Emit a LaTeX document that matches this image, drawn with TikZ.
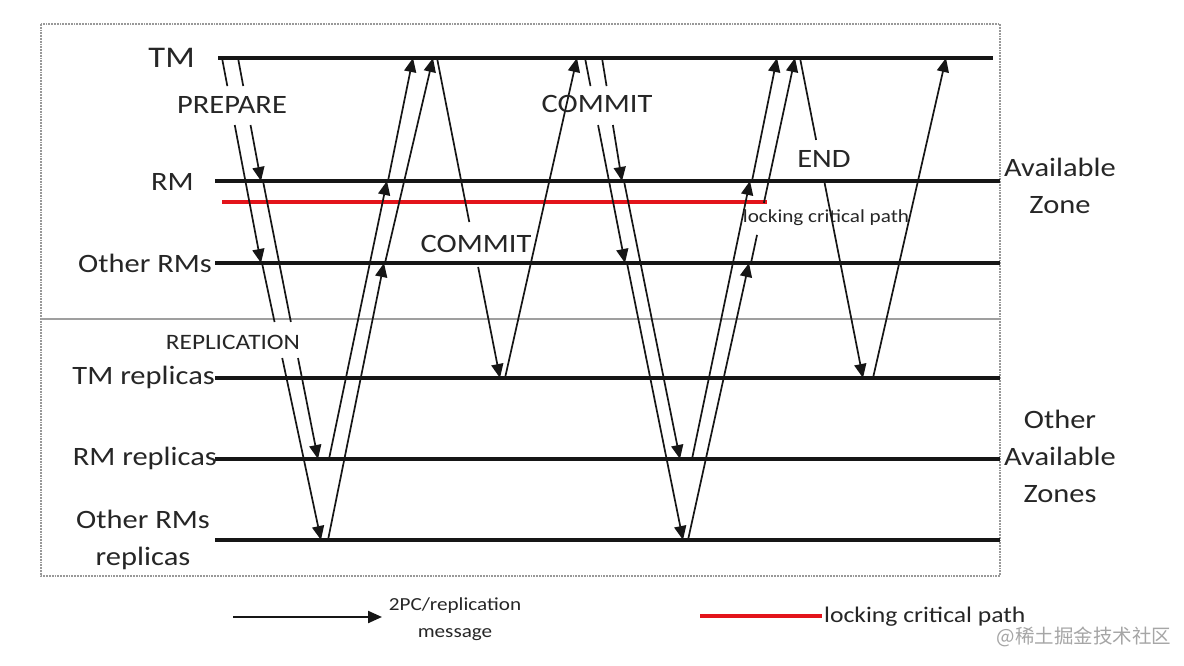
\documentclass[tikz,border=0pt]{standalone}
\usepackage{fontspec}
\setmainfont{Carlito}
\newfontfamily\cjk{Noto Sans CJK SC}
\usetikzlibrary{arrows.meta,calc}
\definecolor{critred}{HTML}{E3141B}
\definecolor{ink}{HTML}{161616}
\definecolor{txt}{HTML}{262626}
\newcommand{\stx}[1]{\scalebox{1.15}[1]{#1}}
\tikzset{
  life/.style={line width=3.2pt, draw=ink},
  msg/.style={line width=1.7pt, draw=ink, -{Triangle[length=14pt,width=12pt]}},
  seg/.style={line width=1.7pt, draw=ink},
  crit/.style={line width=3.2pt, draw=critred},
  framebox/.style={draw=gray!80, line width=1.8pt, densely dotted},
  divider/.style={draw=gray!75, line width=1.6pt},
  side/.style={inner sep=0pt, text=txt, font=\fontsize{26.5}{37}\selectfont, align=center},
  msglbl/.style={inner sep=0pt, text=txt, font=\fontsize{26.5}{30}\selectfont},
  small/.style={inner sep=0pt, text=txt, font=\fontsize{18.4}{27}\selectfont, align=center}
}
\begin{document}
\begin{tikzpicture}[x=1pt,y=-1pt]
\fill[white] (0,0) rectangle (1184,666);
\useasboundingbox (0,0) rectangle (1184,666);

% frame and divider
\coordinate (F1) at (41,24); \coordinate (F2) at (1000,576);
\draw[framebox] (F1) rectangle (F2);
\coordinate (D1) at (41,319); \coordinate (D2) at (1000,319);
\draw[divider] (D1) -- (D2);

% lifelines
\coordinate (TMs) at (218,58);  \coordinate (TMe) at (993,58);
\coordinate (RMs) at (215,181); \coordinate (RMe) at (1000,181);
\coordinate (ORs) at (215,263); \coordinate (ORe) at (1000,263);
\coordinate (TRs) at (215,378); \coordinate (TRe) at (1000,378);
\coordinate (RRs) at (215,459); \coordinate (RRe) at (1000,459);
\coordinate (ORRs) at (215,540); \coordinate (ORRe) at (1000,540);
\coordinate (Cs) at (222,202); \coordinate (Ce) at (767,202);
\draw[life] (TMs) -- (TMe);
\draw[life] (RMs) -- (RMe);
\draw[life] (ORs) -- (ORe);
\draw[life] (TRs) -- (TRe);
\draw[life] (RRs) -- (RRe);
\draw[life] (ORRs) -- (ORRe);
\draw[crit] (Cs) -- (Ce);

% left labels
\node[side, anchor=east] (lTM) at (195,58) {\fontsize{30}{30}\selectfont\stx{TM}};
\node[side, anchor=east] (lRM) at (194,182) {\stx{RM}};
\node[side, anchor=east] (lOR) at (212,263) {\stx{Other RMs}};
\node[side, anchor=east] (lTR) at (215,377) {\stx{TM replicas}};
\node[side, anchor=east] (lRR) at (217,458) {\stx{RM replicas}};
\node[side] (lORR) at (143,540) {\fontsize{26.5}{35}\selectfont\stx{Other RMs}\\\stx{replicas}};

% right labels
\node[side] (zA) at (1060,186) {\stx{Available}\\\stx{Zone}};
\node[side] (zB) at (1060,456) {\stx{Other}\\\stx{Available}\\\stx{Zones}};

% ---- PREPARE ----
\coordinate (p1a) at (238,58);  \coordinate (p1b) at (261,181);
\coordinate (p2a) at (222,58);  \coordinate (p2b) at (261,263);
\draw[seg] (p1a) -- ($(p1a)!0.228!(p1b)$);
\draw[msg] ($(p1a)!0.545!(p1b)$) -- (p1b);
\draw[seg] (p2a) -- ($(p2a)!0.137!(p2b)$);
\draw[msg] ($(p2a)!0.327!(p2b)$) -- (p2b);
\node[msglbl] (prep) at (232,105) {\stx{PREPARE}};

% ---- REPLICATION 1 ----
\coordinate (r1a) at (263,181); \coordinate (r1b) at (318,459);
\coordinate (r2a) at (262,263); \coordinate (r2b) at (321,540);
\draw[seg] (r1a) -- ($(r1a)!0.507!(r1b)$);
\draw[msg] ($(r1a)!0.637!(r1b)$) -- (r1b);
\draw[seg] (r2a) -- ($(r2a)!0.213!(r2b)$);
\draw[msg] ($(r2a)!0.343!(r2b)$) -- (r2b);
\node[inner sep=0pt, text=txt, font=\fontsize{22}{26}\selectfont] (repl) at (233,342) {\stx{REPLICATION}};

% ---- acks group 1 ----
\coordinate (u1a) at (329,459); \coordinate (u1b) at (387,181);
\coordinate (u2a) at (328,540); \coordinate (u2b) at (384,263);
\coordinate (u3a) at (388,181); \coordinate (u3b) at (413,58);
\coordinate (u4a) at (385,263); \coordinate (u4b) at (433,58);
\draw[msg] (u1a) -- (u1b);
\draw[msg] (u2a) -- (u2b);
\draw[msg] (u3a) -- (u3b);
\draw[msg] (u4a) -- (u4b);

% ---- COMMIT to TM replicas ----
\coordinate (c1a) at (437,58);  \coordinate (c1b) at (500,378);
\coordinate (c2a) at (505,378); \coordinate (c2b) at (577,58);
\draw[seg] (c1a) -- ($(c1a)!0.5125!(c1b)$);
\draw[msg] ($(c1a)!0.653!(c1b)$) -- (c1b);
\node[msglbl] (com1) at (476,244) {\stx{COMMIT}};
\draw[msg] (c2a) -- (c2b);

% ---- COMMIT to RMs ----
\coordinate (d1a) at (602,58);  \coordinate (d1b) at (622,181);
\coordinate (d2a) at (585,58);  \coordinate (d2b) at (625,263);
\coordinate (d3a) at (624,181); \coordinate (d3b) at (680,459);
\coordinate (d4a) at (627,263); \coordinate (d4b) at (683,540);
\draw[seg] (d1a) -- ($(d1a)!0.228!(d1b)$);
\draw[msg] ($(d1a)!0.545!(d1b)$) -- (d1b);
\draw[seg] (d2a) -- ($(d2a)!0.137!(d2b)$);
\draw[msg] ($(d2a)!0.327!(d2b)$) -- (d2b);
\draw[msg] (d3a) -- (d3b);
\draw[msg] (d4a) -- (d4b);
\node[msglbl] (com2) at (597,104) {\stx{COMMIT}};

% ---- acks group 2 ----
\coordinate (v1a) at (692,459); \coordinate (v1b) at (750,181);
\coordinate (v2a) at (688,540); \coordinate (v2b) at (749,263);
\coordinate (v3a) at (752,181); \coordinate (v3b) at (777,58);
\coordinate (v4a) at (751,263); \coordinate (v4b) at (795,58);
\draw[msg] (v1a) -- (v1b);
\draw[msg] (v2a) -- (v2b);
\draw[msg] (v3a) -- (v3b);
\draw[seg] (v4a) -- ($(v4a)!0.137!(v4b)$);
\draw[msg] ($(v4a)!0.293!(v4b)$) -- (v4b);
\node[inner sep=0pt, text=txt, font=\fontsize{18.4}{22}\selectfont] (lcp) at (826,218) {\stx{locking critical path}};

% ---- END ----
\coordinate (e1a) at (800,58);  \coordinate (e1b) at (863,378);
\coordinate (e2a) at (873,378); \coordinate (e2b) at (946,58);
\draw[seg] (e1a) -- ($(e1a)!0.256!(e1b)$);
\draw[msg] ($(e1a)!0.3875!(e1b)$) -- (e1b);
\node[msglbl] (endl) at (824,159) {\stx{END}};
\draw[msg] (e2a) -- (e2b);

% ---- legend ----
\coordinate (la) at (233,617); \coordinate (lb) at (382,617);
\draw[msg, line width=2.2pt] (la) -- (lb);
\node[small] (lmsg) at (455,619) {\stx{2PC/replication}\\\stx{message}};
\coordinate (ra) at (700,616); \coordinate (rb) at (822,616);
\draw[crit] (ra) -- (rb);
\node[inner sep=0pt, text=txt, font=\fontsize{22.3}{26}\selectfont, anchor=west] (llcp) at (824,617) {\stx{locking critical path}};

% watermark
\node[inner sep=0pt, text=gray!70, font=\cjk\fontsize{19.5}{22}\selectfont] (wm) at (1084,637) {@稀土掘金技术社区};
\end{tikzpicture}
\end{document}
